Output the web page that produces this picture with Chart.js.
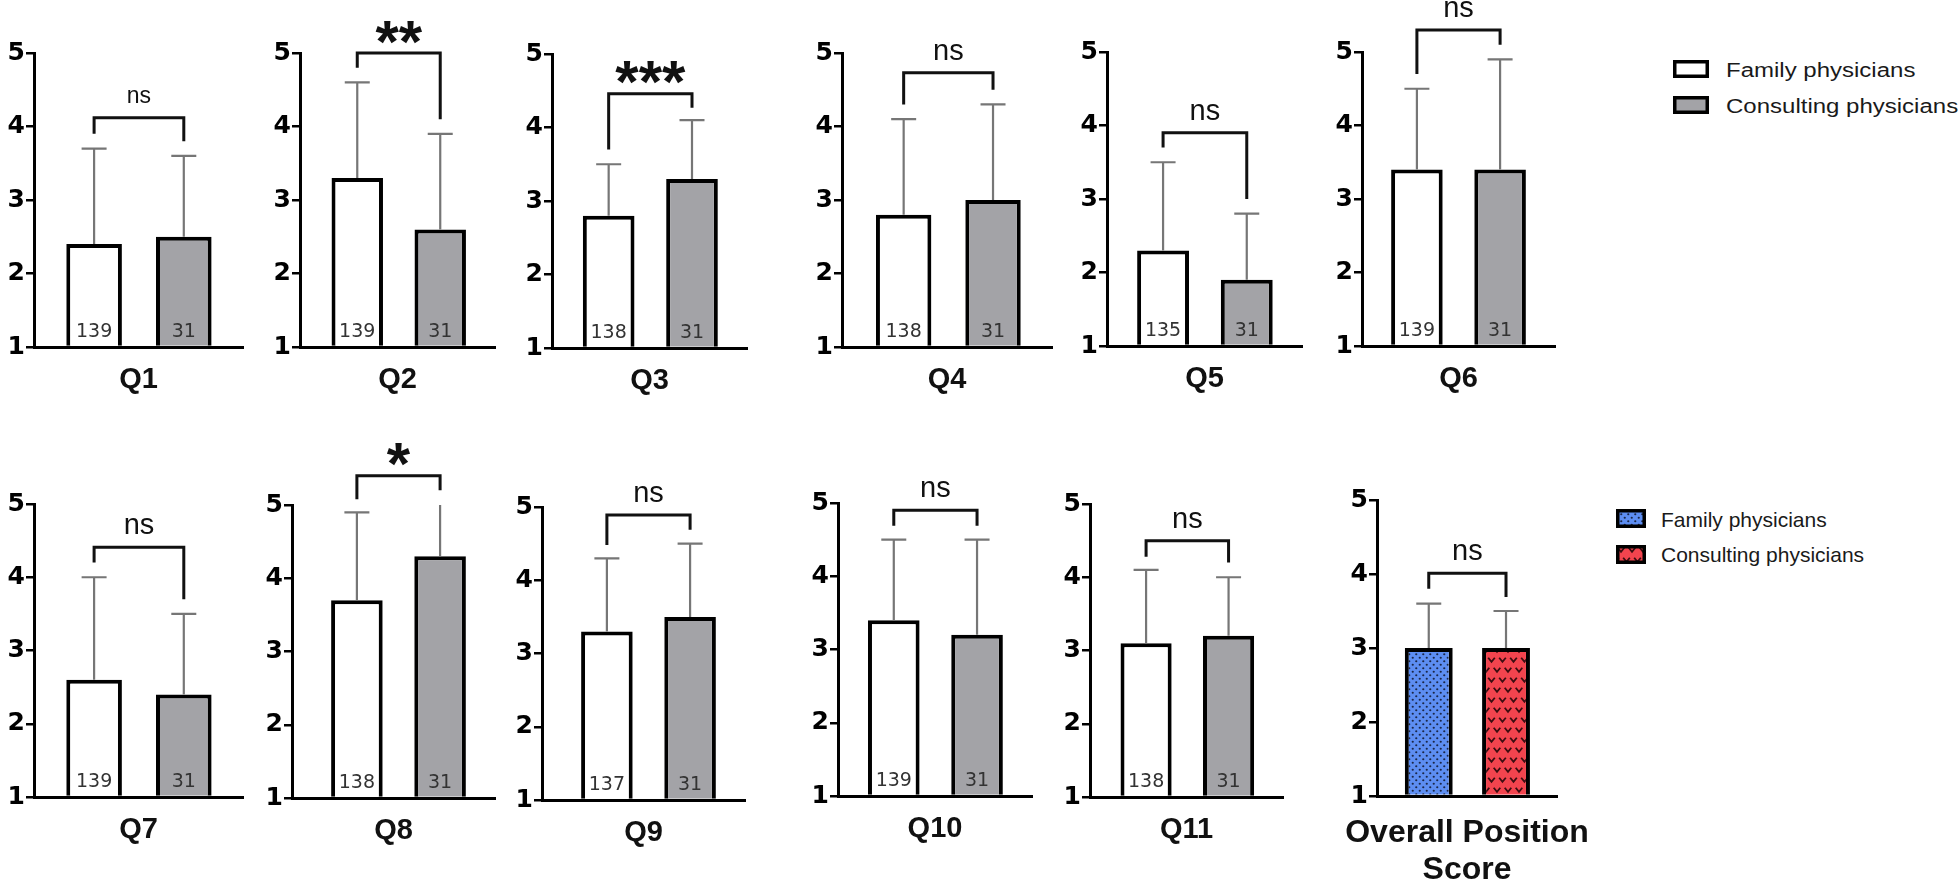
<!DOCTYPE html>
<html>
<head>
<meta charset="utf-8">
<script src="https://cdn.jsdelivr.net/npm/chart.js@4.4.1/dist/chart.umd.min.js"></script>
<style>
body { margin: 0; background: #fff; }
#wrap { position: relative; width: 1960px; height: 884px; overflow: hidden; background: #fff; }
#wrap canvas { position: absolute; }
.lg { position: absolute; font-family: "Liberation Sans", Arial, sans-serif; color: #1a1a1a; white-space: nowrap; line-height: 1; transform-origin: left center; }
</style>
</head>
<body>
<div id="wrap"></div>
<script>
// ---- data ----
const questions = ['Q1', 'Q2', 'Q3', 'Q4', 'Q5', 'Q6', 'Q7', 'Q8', 'Q9', 'Q10', 'Q11', ['Overall Position', 'Score']];
const groups = ['Family physicians', 'Consulting physicians'];
const familyMean = [2.4, 3.3, 2.8, 2.8, 2.3, 3.4, 2.6, 3.7, 3.3, 3.4, 3.1, 3.0];
const familyUpper = [3.7, 4.6, 3.5, 4.1, 3.5, 4.5, 4.0, 4.9, 4.3, 4.5, 4.1, 3.6];
const consultMean = [2.5, 2.6, 3.3, 3.0, 1.9, 3.4, 2.4, 4.3, 3.5, 3.2, 3.2, 3.0];
const consultUpper = [3.6, 3.9, 4.1, 4.3, 2.8, 4.9, 3.5, 5.2, 4.5, 4.5, 4.0, 3.5];
const familyN = [139, 139, 138, 138, 135, 139, 139, 138, 137, 139, 138, null];
const consultN = [31, 31, 31, 31, 31, 31, 31, 31, 31, 31, 31, null];
const significance = ['ns', '**', '***', 'ns', 'ns', 'ns', 'ns', '*', 'ns', 'ns', 'ns', 'ns'];
// comparison brackets (value units): bar top, left leg end, right leg end
const bracketTop = [4.12, 5.0, 4.46, 4.73, 3.9, 5.3, 4.41, 5.4, 4.89, 4.9, 4.5, 4.01];
const bracketLeft = [3.9, 4.8, 3.7, 4.3, 3.7, 4.7, 4.2, 5.08, 4.48, 4.69, 4.28, 3.8];
const bracketRight = [3.8, 4.1, 4.27, 4.5, 3.0, 5.1, 3.7, 5.2, 4.69, 4.69, 4.2, 3.69];
const yTicks = [1, 2, 3, 4, 5];
const barPositions = [1, 2];

// ---- layout (pixel positions of each panel's axes) ----
const panels = [
    { axisX: 34, y5: 53, y1: 347, xEnd: 243, xMin: 0.33 },
    { axisX: 300, y5: 53, y1: 347, xEnd: 495, xMin: 0.31 },
    { axisX: 552, y5: 54, y1: 348, xEnd: 747, xMin: 0.32 },
    { axisX: 842, y5: 53, y1: 347, xEnd: 1052, xMin: 0.31 },
    { axisX: 1107, y5: 52, y1: 346, xEnd: 1302, xMin: 0.33 },
    { axisX: 1362, y5: 52, y1: 346, xEnd: 1555, xMin: 0.34 },
    { axisX: 34, y5: 504, y1: 797, xEnd: 243, xMin: 0.33 },
    { axisX: 292, y5: 505, y1: 798, xEnd: 495, xMin: 0.22 },
    { axisX: 542, y5: 507, y1: 800, xEnd: 745, xMin: 0.22 },
    { axisX: 838, y5: 503, y1: 796, xEnd: 1032, xMin: 0.33 },
    { axisX: 1090, y5: 504, y1: 797, xEnd: 1283, xMin: 0.32 },
    { axisX: 1377, y5: 500, y1: 796, xEnd: 1557, xMin: 0.33 }
];
const X_MAX = 2.66;
const YW = 40, XH = 100, PT = 75, PR = 50, PL = 10;
const GRAY = '#a3a3a7';
const FONT = '"Liberation Sans", Arial, sans-serif';

Chart.defaults.font.family = FONT;

// patterns for the overall score bars
function makePattern(kind) {
    const c = document.createElement('canvas');
    const g = c.getContext('2d');
    if (kind === 'dots') {
        c.width = 7; c.height = 7;
        g.fillStyle = '#5d8ef2'; g.fillRect(0, 0, 7, 7);
        g.fillStyle = '#1b2747';
        [[1.75, 1.75], [5.25, 5.25]].forEach(([px, py]) => {
            g.beginPath(); g.arc(px, py, 1.1, 0, Math.PI * 2); g.fill();
        });
    } else {
        c.width = 22; c.height = 20;
        g.fillStyle = '#f2444e'; g.fillRect(0, 0, 22, 20);
        g.strokeStyle = '#3a0d10'; g.lineWidth = 1.8;
        [[5, 5], [16, 5], [10.5, 15], [21.5, 15], [-0.5, 15]].forEach(([px, py]) => {
            g.beginPath(); g.moveTo(px - 3.3, py - 2.3); g.lineTo(px, py + 1.8); g.lineTo(px + 3.3, py - 2.3); g.stroke();
        });
    }
    return g.createPattern(c, 'repeat');
}
const bluePattern = makePattern('dots');
const redPattern = makePattern('vees');

const annotate = {
    id: 'annotate',
    afterDatasetsDraw(chart, args, o) {
        const i = o.index;
        const { ctx, chartArea: a, scales: { x, y } } = chart;
        const xs = barPositions.map(v => x.getPixelForValue(v));
        const means = [familyMean[i], consultMean[i]];
        const ups = [familyUpper[i], consultUpper[i]];
        const ns = [familyN[i], consultN[i]];

        // error bars (upper only), clipped to the plot
        ctx.save();
        ctx.beginPath();
        ctx.rect(a.left, a.top, a.right - a.left, a.bottom - a.top);
        ctx.clip();
        ctx.strokeStyle = '#767676';
        ctx.lineWidth = 2.2;
        xs.forEach((px, k) => {
            const top = y.getPixelForValue(ups[k]);
            ctx.beginPath();
            ctx.moveTo(px, y.getPixelForValue(means[k]));
            ctx.lineTo(px, top);
            ctx.moveTo(px - 12.5, top);
            ctx.lineTo(px + 12.5, top);
            ctx.stroke();
        });
        ctx.restore();

        // group sizes inside bars
        ctx.save();
        ctx.font = '19px "DejaVu Sans"';
        ctx.fillStyle = '#333';
        ctx.textAlign = 'center';
        ctx.textBaseline = 'alphabetic';
        xs.forEach((px, k) => {
            if (ns[k] != null) ctx.fillText(String(ns[k]), px, y.getPixelForValue(1) - 10);
        });
        ctx.restore();

        // comparison bracket
        const bt = y.getPixelForValue(bracketTop[i]);
        ctx.save();
        ctx.strokeStyle = '#111';
        ctx.lineWidth = 3;
        ctx.lineJoin = 'miter';
        ctx.beginPath();
        ctx.moveTo(xs[0], y.getPixelForValue(bracketLeft[i]));
        ctx.lineTo(xs[0], bt);
        ctx.lineTo(xs[1], bt);
        ctx.lineTo(xs[1], y.getPixelForValue(bracketRight[i]));
        ctx.stroke();

        const sig = significance[i];
        ctx.font = sig === 'ns' ? (i === 0 ? '23px ' : '29px ') + FONT : 'bold 60px ' + FONT;
        ctx.fillStyle = '#111';
        ctx.textAlign = 'center';
        ctx.textBaseline = 'alphabetic';
        const m = ctx.measureText(sig);
        const cy = bt - 21;
        ctx.fillText(sig, (xs[0] + xs[1]) / 2, cy + (m.actualBoundingBoxAscent - m.actualBoundingBoxDescent) / 2);
        ctx.restore();
    },
    afterDraw(chart, args, o) {
        // long panel titles are drawn here so Chart.js does not squeeze them to the axis width
        const text = questions[o.index];
        if (!Array.isArray(text)) return;
        const { ctx, chartArea: a } = chart;
        ctx.save();
        ctx.font = 'bold 32px ' + FONT;
        ctx.fillStyle = '#111';
        ctx.textAlign = 'center';
        ctx.textBaseline = 'middle';
        const cx = (a.left + a.right) / 2;
        text.forEach((line, k) => ctx.fillText(line, cx, a.bottom + 37 + k * 37));
        ctx.restore();
    }
};

const wrap = document.getElementById('wrap');

panels.forEach((p, i) => {
    const cv = document.createElement('canvas');
    const w = PL + YW + (p.xEnd - p.axisX) + PR;
    const h = PT + (p.y1 - p.y5) + XH;
    cv.width = w; cv.height = h;
    cv.style.left = (p.axisX - YW - PL) + 'px';
    cv.style.top = (p.y5 - PT) + 'px';
    cv.style.width = w + 'px'; cv.style.height = h + 'px';
    wrap.appendChild(cv);

    const overall = Array.isArray(questions[i]);

    new Chart(cv, {
        type: 'bar',
        data: {
            datasets: [{
                label: groups.join(' / '),
                data: barPositions.map((bx, k) => ({ x: bx, y: k === 0 ? familyMean[i] : consultMean[i] })),
                base: 1,
                backgroundColor: overall ? [bluePattern, redPattern] : ['#ffffff', GRAY],
                borderColor: '#000',
                borderWidth: 4,
                borderSkipped: 'start',
                barPercentage: 0.62,
                categoryPercentage: 1
            }]
        },
        options: {
            responsive: false,
            animation: false,
            events: [],
            layout: { padding: { top: PT, right: PR, left: PL, bottom: 0 } },
            plugins: {
                legend: { display: false },
                tooltip: { enabled: false },
                annotate: { index: i }
            },
            scales: {
                x: {
                    type: 'linear',
                    min: p.xMin,
                    max: X_MAX,
                    offset: false,
                    afterBuildTicks: s => { s.ticks = barPositions.map(v => ({ value: v })); },
                    ticks: { display: false },
                    grid: { display: false, drawTicks: false },
                    border: { display: true, color: '#000', width: 3 },
                    title: {
                        display: !overall,
                        text: questions[i],
                        color: '#111',
                        font: { size: 29, weight: 'bold', lineHeight: 1.2 },
                        padding: { top: 0, bottom: XH - 33 - 17.4 }
                    },
                    afterFit: s => { s.height = XH; }
                },
                y: {
                    min: yTicks[0],
                    max: yTicks[yTicks.length - 1],
                    afterBuildTicks: s => { s.ticks = yTicks.map(v => ({ value: v })); },
                    ticks: { color: '#000', padding: 1, font: { family: '"DejaVu Sans"', weight: 'bold', size: 25 } },
                    grid: { drawOnChartArea: false, drawTicks: true, tickLength: 8, color: '#000', lineWidth: 2.5 },
                    border: { display: true, color: '#000', width: 3 },
                    afterFit: s => { s.width = YW; }
                }
            }
        },
        plugins: [annotate]
    });
});

// ---- legends ----
function legendBox(left, top, w, h, fill) {
    const c = document.createElement('canvas');
    c.width = w; c.height = h;
    c.style.left = left + 'px'; c.style.top = top + 'px';
    const g = c.getContext('2d');
    g.fillStyle = fill;
    g.fillRect(0, 0, w, h);
    g.strokeStyle = '#000';
    g.lineWidth = 3.5;
    g.strokeRect(1.75, 1.75, w - 3.5, h - 3.5);
    wrap.appendChild(c);
}
function legendText(left, centerY, size, sx, text) {
    const d = document.createElement('div');
    d.className = 'lg';
    d.textContent = text;
    d.style.left = left + 'px';
    d.style.top = (centerY - size * 0.49) + 'px';
    d.style.fontSize = size + 'px';
    d.style.transform = 'scaleX(' + sx + ')';
    wrap.appendChild(d);
}
legendBox(1673, 60, 36, 18, '#ffffff');
legendBox(1673, 96, 36, 18, GRAY);
legendText(1726, 70, 20, 1.2, groups[0]);
legendText(1726, 106, 20, 1.2, groups[1]);

legendBox(1616, 509, 30, 19, bluePattern);
legendBox(1616, 545, 30, 19, redPattern);
legendText(1661, 519, 21, 1, groups[0]);
legendText(1661, 554, 21, 1, groups[1]);
</script>
</body>
</html>
